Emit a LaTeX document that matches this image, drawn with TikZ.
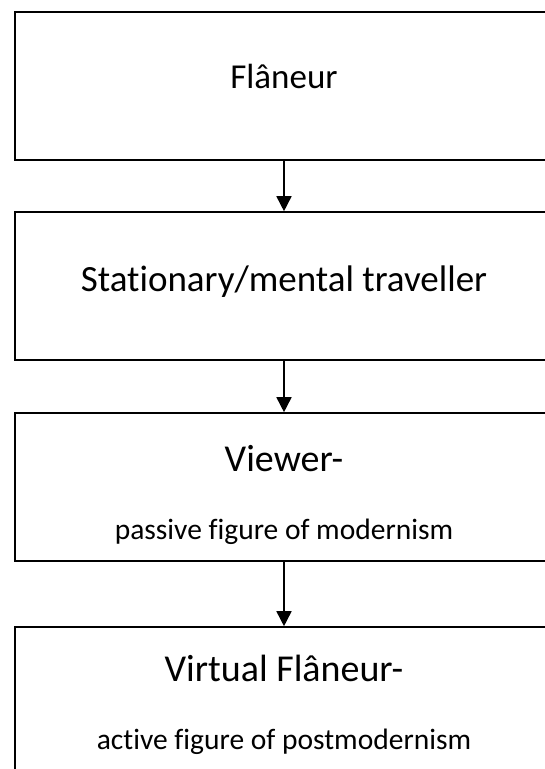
\documentclass[tikz,border=0pt]{standalone}
\usepackage{fontspec}
\setmainfont{Carlito}[Ligatures=NoCommon]
\usetikzlibrary{positioning, shapes.geometric, arrows.meta}

\begin{document}
\begin{tikzpicture} [x=1pt, y=-1pt, stage/.style={rectangle, draw, line width=1.6pt, minimum width=538pt, minimum height=148pt, inner sep=0pt}, big/.style={font=\fontsize{38}{44}\selectfont, anchor=base}, small/.style={font=\fontsize{29.5}{34}\selectfont, anchor=base}, >={Triangle[width=15pt, length=15pt]}]
\useasboundingbox (0,0) rectangle (545,769);
\node[stage] (flaneur) at (284,86) {};
\node[stage] (mental) at (284,286) {};
\node[stage] (viewer) at (284,487) {};
\node[stage] (virtual) at (284,701) {};
\node[big, font=\fontsize{35}{40}\selectfont] (t1) at (284,88) {Flâneur};
\node[big, font=\fontsize{37}{42}\selectfont] (t2) at (284,291) {Stationary/mental traveller};
\node[big] (t3) at (284,471) {Viewer-};
\node[small] (t3b) at (284,539) {passive figure of modernism};
\node[big] (t4) at (284,681) {Virtual Flâneur-};
\node[small] (t4b) at (284,749) {active figure of postmodernism};
\draw[->, line width=1.6pt] (flaneur) -- (mental);
\draw[->, line width=1.6pt] (mental) -- (viewer);
\draw[->, line width=1.6pt] (viewer) -- (virtual);
\end{tikzpicture}
\end{document}
